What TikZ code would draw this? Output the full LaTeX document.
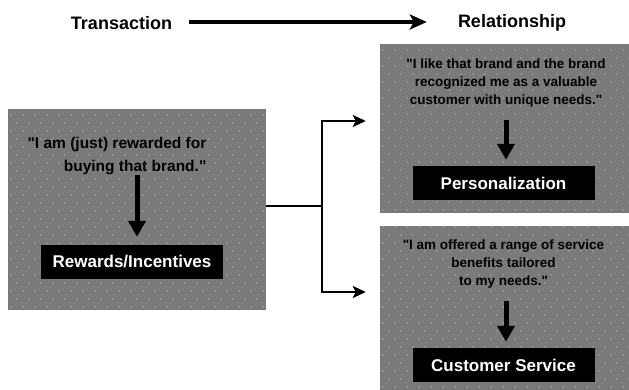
\documentclass[tikz,border=0pt]{standalone}
\usepackage{fontspec}
\setmainfont{Liberation Sans}
\usetikzlibrary{arrows.meta}
\definecolor{boxgray}{HTML}{7A7A7A}
\definecolor{dotc}{HTML}{A3A3A3}
\newcommand\mydots[4]{%
  \begin{scope}
    \clip (#1,#2) rectangle (#3,#4);
    \foreach \j in {0,...,26}{%
      \foreach \i in {0,...,22}{%
        \fill[dotc] ({#1+3+12*\i+6*mod(\j,2)},{#2+3+8*\j}) circle (0.8);
      }%
    }%
  \end{scope}}
\newcommand\qq{\textquotedbl}
\tikzset{
  panel/.style={fill=boxgray, draw=none, inner sep=0pt},
  titletext/.style={font=\bfseries\fontsize{18}{20}\selectfont, inner sep=1pt},
  quote/.style={font=\bfseries\fontsize{13.5}{18}\selectfont, align=center, inner sep=0pt},
  label/.style={fill=black, text=white, font=\bfseries\fontsize{17}{19}\selectfont,
    minimum width=182pt, minimum height=34pt, inner sep=0pt},
  downarrow/.style={line width=5pt, -{Triangle[length=16pt,width=17pt]}},
  conn/.style={line width=2.6pt},
  connarrow/.style={line width=2.6pt, -{Stealth[length=13pt,width=12pt,inset=3pt]}},
  bigarrow/.style={line width=4pt, -{Stealth[length=17pt,width=15pt,inset=4pt]}}
}
\begin{document}
\begin{tikzpicture}[x=1pt,y=1pt]
\useasboundingbox (0,0) rectangle (629,390);
\fill[white] (0,0) rectangle (629,390);

% titles
\node[titletext] (trans) at (121.5,367) {Transaction};
\node[titletext] (rel) at (512,367) {Relationship};
\draw[bigarrow] ([xshift=16pt,yshift=1pt]trans.east) -- ([xshift=-30pt,yshift=1pt]rel.west);

% panels
\node[panel, minimum width=258pt, minimum height=201pt] (lbox) at (137,180.5) {};
\mydots{8}{80}{266}{281}
\node[panel, minimum width=249pt, minimum height=169pt] (trb) at (504.5,261.5) {};
\mydots{380}{177}{629}{346}
\node[panel, minimum width=249pt, minimum height=164pt] (brb) at (504.5,82) {};
\mydots{380}{0}{629}{164}

% left panel content
\node[quote, align=right, font=\bfseries\fontsize{15.5}{23}\selectfont] (q1) at (117,234) {\qq I am (just) rewarded for\\buying that brand.\qq};
\node[label] (rw) at (132,128) {Rewards/Incentives};
\coordinate (a1) at (137,215);
\draw[downarrow, shorten >=8pt] (a1) -- (a1 |- rw.north);

% top right content
\node[quote] (q2) at (506,307) {\qq I like that brand and the brand\\recognized me as a valuable\\customer with unique needs.\qq};
\node[label] (pers) at (503.5,207) {Personalization};
\coordinate (a2) at (506,270);
\draw[downarrow, shorten >=6pt] (a2) -- (a2 |- pers.north);

% bottom right content
\node[quote] (q3) at (503.5,125.5) {\qq I am offered a range of service\\benefits tailored\\to my needs.\qq};
\node[label] (cs) at (503.5,25) {Customer Service};
\coordinate (a3) at (506,89);
\draw[downarrow, shorten >=6pt] (a3) -- (a3 |- cs.north);

% connectors
\coordinate (j) at (322,184);
\draw[conn] ([yshift=3.5pt]lbox.east) -- (j);
\draw[conn] (j) -- (322,270.3) coordinate (jt);
\draw[conn] (j) -- (322,96.7) coordinate (jb);
\draw[connarrow] (322,269) -- ([xshift=-14pt]trb.west |- 0,269);
\draw[connarrow] (322,98) -- ([xshift=-14pt]brb.west |- 0,98);
\end{tikzpicture}
\end{document}
